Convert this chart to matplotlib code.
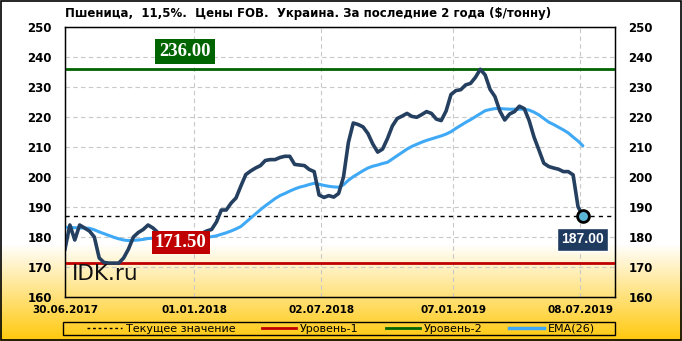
import numpy as np
import pandas as pd
import matplotlib
matplotlib.use("Agg")
import matplotlib.pyplot as plt
from matplotlib.lines import Line2D
from matplotlib import font_manager as fm

title = "Пшеница,  11,5%.  Цены FOB.  Украина. За последние 2 года ($/тонну)"
start_date = "2017-06-30"
price = [176, 184, 179, 184, 183, 182, 180, 173, 171.5, 171.3,
         171.3, 171.3, 173, 176, 180, 181.5, 182.5, 184, 183, 181.5,
         180, 179, 179, 179, 179.5, 180, 180.5, 181, 181.2, 182,
         182.5, 185, 189, 189, 191.3, 193, 197, 200.8, 202, 203,
         203.8, 205.5, 205.8, 205.8, 206.5, 206.9, 206.9, 204.2, 204, 203.8,
         202.5, 201.8, 194, 193.2, 193.8, 193.3, 194.5, 200, 211.5, 218,
         217.5, 216.7, 214.5, 211, 208.3, 209.3, 212.8, 217, 219.5, 220.3,
         221.2, 220.2, 219.9, 220.8, 221.8, 221.2, 219.3, 218.8, 222, 227.5,
         228.8, 229.1, 230.7, 231.2, 233.2, 235.9, 234, 229.2, 226.8, 222,
         219, 221, 221.8, 223.6, 222.8, 218.8, 213.3, 209, 204.6, 203.5,
         203, 202.6, 201.8, 201.8, 200.7, 190.1, 187]
ema = [183.2, 183.2, 183.1, 183, 183, 182.9, 182.4, 181.7, 181.1, 180.5,
       179.9, 179.4, 179, 178.8, 178.9, 179, 179.2, 179.5, 179.6, 179.7,
       179.7, 179.7, 179.7, 179.7, 179.8, 179.8, 179.8, 179.9, 179.9, 180,
       180.1, 180.4, 180.9, 181.4, 182, 182.7, 183.5, 184.9, 186.3, 187.7,
       189.1, 190.4, 191.6, 192.8, 193.8, 194.5, 195.3, 196, 196.6, 197,
       197.5, 197.9, 197.6, 197.2, 196.9, 196.7, 196.6, 197.4, 198.9, 200.1,
       201.1, 202.1, 203, 203.6, 204, 204.5, 204.9, 206, 207.1, 208.2,
       209.3, 210.2, 210.9, 211.6, 212.2, 212.7, 213.2, 213.7, 214.3, 215.1,
       216.2, 217.2, 218.2, 219.1, 220.1, 221.1, 222.1, 222.5, 222.8, 222.8,
       222.7, 222.6, 222.6, 222.6, 222.6, 222.3, 221.6, 220.7, 219.5, 218.3,
       217.5, 216.6, 215.7, 214.7, 213.3, 212, 210.4]
level1 = 171.5
level2 = 236.0
current = 187.0
tick_dates = ["2017-06-30", "2018-01-01", "2018-07-02", "2019-01-07", "2019-07-08"]
tick_labels = ["30.06.2017", "01.01.2018", "02.07.2018", "07.01.2019", "08.07.2019"]
legend_labels = ["Текущее значение", "Уровень-1", "Уровень-2", "EMA(26)"]

dates = pd.date_range(start_date, periods=len(price), freq="7D")

W, H = 682, 341
fig = plt.figure(figsize=(W / 100, H / 100), dpi=100)

bg = fig.add_axes([0, 0, 1, 1], zorder=-10)
n = 341
col = np.ones((n, 1, 3))
top_white = 243
gold = np.array([255, 200, 10]) / 255.0
for r in range(n):
    if r > top_white:
        t = (r - top_white) / (n - top_white)
        col[r, 0] = (1 - t) * np.array([1, 1, 1]) + t * gold
bg.imshow(col, aspect="auto", extent=[0, 1, 0, 1], origin="upper")
bg.set_xlim(0, 1)
bg.set_ylim(0, 1)
bg.set_axis_off()
bg.add_patch(plt.Rectangle((0.001, 0.002), 0.997, 0.995, fill=False,
                           edgecolor="black", lw=1.2, transform=bg.transAxes))
# legend frame
bg.add_patch(plt.Rectangle((63 / W, 1 - 335 / H), 552 / W, 13 / H, fill=False,
                           edgecolor="black", lw=1, transform=bg.transAxes))

ax = fig.add_axes([65 / W, 1 - 297 / H, 550 / W, 270 / H])
ax.patch.set_alpha(0)

ax.axhline(current, color="black", lw=1, ls=(0, (3, 3)), zorder=3)
ax.axhline(level1, color="#C00000", lw=2, zorder=3)
ax.axhline(level2, color="#006400", lw=2, zorder=3)
ax.plot(dates, ema, color="#3FA9F5", lw=2.2, zorder=4, solid_capstyle="round")
ax.plot(dates, price, color="#243F60", lw=2.6, zorder=5, solid_joinstyle="round")
ax.plot(dates[-1:], price[-1:], "o", ms=8.5, mfc="#5AB4D6", mec="black", mew=2, zorder=6)

ax.set_ylim(160, 250)
ax.set_yticks(np.arange(160, 251, 10))
x0 = pd.Timestamp(start_date)
ax.set_xlim(x0, x0 + pd.Timedelta(days=788))
ax.set_xticks(pd.to_datetime(tick_dates))
ax.set_xticklabels(tick_labels)
ax.grid(True, color="#C8C8C8", ls=(0, (4, 3)), lw=0.8)
ax.tick_params(length=0)
ax.tick_params(axis="y", pad=9.5)
ax.tick_params(axis="x", pad=6)
for lab in ax.get_yticklabels():
    lab.set_fontsize(8.5)
    lab.set_fontweight("bold")
for lab in ax.get_xticklabels():
    lab.set_fontsize(7.5)
    lab.set_fontweight("bold")
for s in ax.spines.values():
    s.set_color("black")
    s.set_linewidth(1)

ax2 = ax.twinx()
ax2.set_ylim(160, 250)
ax2.set_yticks(np.arange(160, 251, 10))
ax2.tick_params(length=0, pad=9.5)
for lab in ax2.get_yticklabels():
    lab.set_fontsize(8.5)
    lab.set_fontweight("bold")

ax.text(x0 + pd.Timedelta(days=172), 241.8, "236.00", color="white",
        fontsize=13.5, fontweight="bold", family=["Liberation Serif", "DejaVu Serif"],
        ha="center", va="center",
        bbox=dict(boxstyle="square,pad=0.22", fc="#006400", ec="none"), zorder=7)
ax.text(x0 + pd.Timedelta(days=166), 178.2, "171.50", color="white",
        fontsize=13.5, fontweight="bold", family=["Liberation Serif", "DejaVu Serif"],
        ha="center", va="center",
        bbox=dict(boxstyle="square,pad=0.18", fc="#C00000", ec="none"), zorder=7)
ax.text(dates[-1], 179.2, "187.00", color="white",
        fontsize=10, fontweight="bold", family=["Liberation Sans", "DejaVu Sans"],
        ha="center", va="center",
        bbox=dict(boxstyle="square,pad=0.3", fc="#1F3A5F", ec="white", lw=1), zorder=7)
ax.text(0.012, 0.085, "IDK.ru", transform=ax.transAxes, fontsize=15.5,
        color="#111111", ha="left", va="center", zorder=7)

fig.text(65 / W, 1 - 14 / H, title, fontsize=8.5, fontweight="bold",
         ha="left", va="center")

handles = [Line2D([], [], color="black", lw=1, ls=(0, (2, 2))),
           Line2D([], [], color="#C00000", lw=2),
           Line2D([], [], color="#006400", lw=2),
           Line2D([], [], color="#3FA9F5", lw=2.5)]
leg = fig.legend(handles, legend_labels, ncol=4, loc="center",
                 bbox_to_anchor=(341 / W, 1 - 328.5 / H),
                 fontsize=8, frameon=False, handlelength=3.1,
                 handletextpad=0.35, borderpad=0.1, columnspacing=2.4)

fig.savefig("out.png", dpi=100)
